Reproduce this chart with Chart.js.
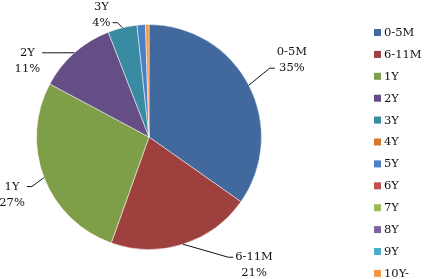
<!DOCTYPE html>
<html>
<head>
<meta charset="utf-8">
<script src="https://cdn.jsdelivr.net/npm/chart.js"></script>
<style>
    html, body { margin: 0; padding: 0; background: #fff; }
    #contenedor { width: 424px; height: 279px; }
</style>
</head>
<body>
<div id="contenedor"><canvas id="graficaPie"></canvas></div>
<script>
const categorias = ["0-5M", "6-11M", "1Y", "2Y", "3Y", "4Y", "5Y", "6Y", "7Y", "8Y", "9Y", "10Y-"];
const valores = [34.8, 20.7, 27.4, 11.3, 4.2, 0, 1.2, 0, 0, 0, 0, 0.5];
const colores = ["#41699D", "#9E403D", "#7E9E48", "#654E86", "#388BA1", "#D4782F",
                 "#4A7FC6", "#C0504D", "#9BBB59", "#8064A2", "#4BACC6", "#F79646"];

const fuente = "11.5px 'DejaVu Serif'";

// etiquetas con linea guia, desplazamiento del bloque respecto al borde del sector
const etiquetasPie = {
    id: "etiquetasPie",
    afterDatasetsDraw(chart, args, opts) {
        const ctx = chart.ctx;
        const meta = chart.getDatasetMeta(0);
        const total = valores.reduce((a, b) => a + b, 0);

        ctx.save();
        ctx.font = fuente;
        ctx.fillStyle = "#111";
        ctx.strokeStyle = "#111";
        ctx.lineWidth = 1;
        ctx.textAlign = "center";
        ctx.textBaseline = "middle";

        meta.data.forEach((arco, i) => {
            const pos = opts.posiciones[categorias[i]];
            if (!pos) return;

            const p = arco.getProps(["x", "y", "startAngle", "endAngle", "outerRadius"], true);
            const medio = (p.startAngle + p.endAngle) / 2;
            const ex = p.x + Math.cos(medio) * p.outerRadius;
            const ey = p.y + Math.sin(medio) * p.outerRadius;
            const cx = ex + pos[0];
            const cy = ey + pos[1];

            const linea1 = categorias[i];
            const linea2 = Math.round(valores[i] / total * 100) + "%";
            const ancho = Math.max(ctx.measureText(linea1).width, ctx.measureText(linea2).width);

            const derecha = pos[0] > 0;
            const fx = derecha ? cx - ancho / 2 - 2 : cx + ancho / 2 + 2;
            const fy = Math.min(Math.max(ey, cy - 8), cy + 8);
            const codo = derecha ? fx - 5 : fx + 5;

            ctx.beginPath();
            ctx.moveTo(ex, ey);
            ctx.lineTo(codo, fy);
            ctx.lineTo(fx, fy);
            ctx.stroke();

            ctx.fillText(linea1, cx, cy - 8);
            ctx.fillText(linea2, cx, cy + 8);
        });
        ctx.restore();
    }
};

const leyenda = {
    id: "leyenda",
    afterDraw(chart) {
        const ctx = chart.ctx;
        ctx.save();
        ctx.font = fuente;
        ctx.textAlign = "left";
        ctx.textBaseline = "middle";
        categorias.forEach((cat, i) => {
            const y = 32.5 + i * 21.9;
            ctx.fillStyle = colores[i];
            ctx.fillRect(374, y - 3.5, 7, 7);
            ctx.fillStyle = "#111";
            ctx.fillText(cat, 384, y + 0.5);
        });
        ctx.restore();
    }
};

document.addEventListener("DOMContentLoaded", () => {
    const ctx = document.getElementById("graficaPie").getContext("2d");

    new Chart(ctx, {
        type: "pie",
        data: {
            labels: categorias,
            datasets: [{
                data: valores,
                backgroundColor: colores,
                borderColor: "rgba(255,255,255,0.5)",
                borderWidth: 1
            }]
        },
        options: {
            responsive: true,
            maintainAspectRatio: false,
            animation: false,
            layout: {
                padding: { top: 24, bottom: 29, left: 36, right: 162 }
            },
            plugins: {
                legend: { display: false },
                tooltip: { enabled: false },
                etiquetasPie: {
                    posiciones: {
                        "0-5M": [43, -25],
                        "6-11M": [71, 21],
                        "1Y": [-32, 17],
                        "2Y": [-47, 8],
                        "3Y": [-21, -13]
                    }
                }
            }
        },
        plugins: [etiquetasPie, leyenda]
    });
});
</script>
</body>
</html>
